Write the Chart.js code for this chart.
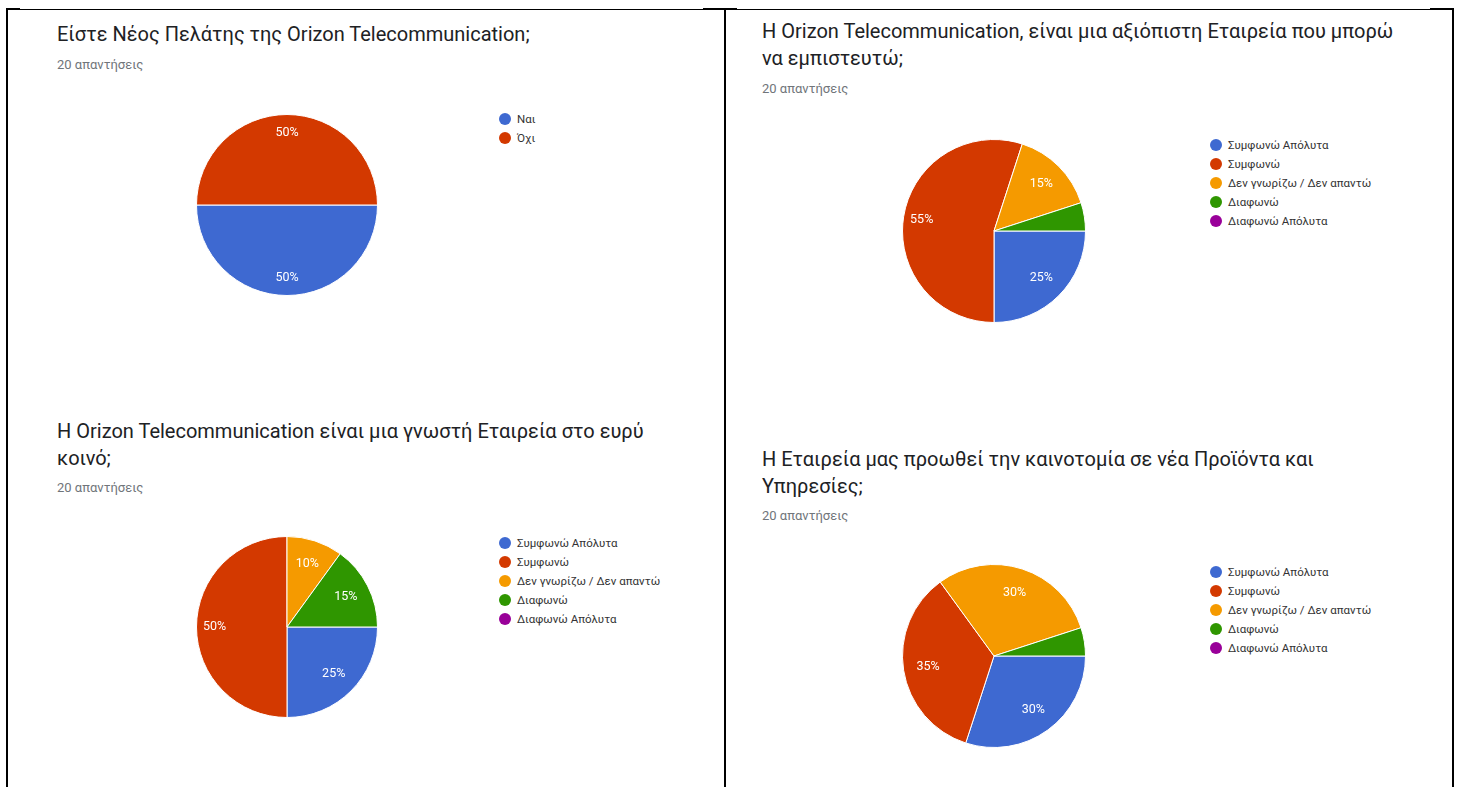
<!DOCTYPE html>
<html><head><meta charset="utf-8">
<script src="https://cdn.jsdelivr.net/npm/chart.js@4.4.1/dist/chart.umd.min.js"></script>
<style>
  html,body{margin:0;padding:0;background:#fff;}
  #root{position:relative;width:1461px;height:787px;overflow:hidden;font-family:Roboto,"Noto Sans",sans-serif;}
  .ln{position:absolute;background:#000;}
  .title{position:absolute;font-size:20px;line-height:27px;color:#202124;white-space:nowrap;}
  .sub{position:absolute;font-size:13px;line-height:16px;color:#70757a;white-space:nowrap;}
  .pie{position:absolute;}
  .legend{position:absolute;font-size:11.5px;color:#333;}
  .legend .row{position:relative;height:19px;line-height:19px;padding-left:12px;white-space:nowrap;}
  .legend .dot{position:absolute;left:-6px;top:3.5px;width:12px;height:12px;border-radius:50%;}
</style></head>
<body>
<div id="root">
  <div class="ln" style="left:6px;top:9px;width:1448px;height:1px;"></div>
  <div class="ln" style="left:6px;top:8px;width:14px;height:2px;"></div>
  <div class="ln" style="left:703px;top:8px;width:34px;height:2px;"></div>
  <div class="ln" style="left:1430px;top:8px;width:24px;height:2px;"></div>
  <div class="ln" style="left:6px;top:8px;width:2px;height:780px;"></div>
  <div class="ln" style="left:724px;top:8px;width:2px;height:780px;"></div>
  <div class="ln" style="left:1452px;top:8px;width:2px;height:780px;"></div>
</div>
<script>
// ---- data ----
const yesNoLabels = ["Ναι", "Όχι"];
const agreeLabels = ["Συμφωνώ Απόλυτα", "Συμφωνώ", "Δεν γνωρίζω / Δεν απαντώ", "Διαφωνώ", "Διαφωνώ Απόλυτα"];
const q1Values = [10, 10];
const q2Values = [5, 11, 3, 1, 0];
const q3Values = [5, 10, 2, 3, 0];
const q4Values = [6, 7, 6, 1, 0];
const q1Title = ["Είστε Νέος Πελάτης της Orizon Telecommunication;"];
const q2Title = ["H Orizon Telecommunication, είναι μια αξιόπιστη Εταιρεία που μπορώ", "να εμπιστευτώ;"];
const q3Title = ["H Orizon Telecommunication είναι μια γνωστή Εταιρεία στο ευρύ", "κοινό;"];
const q4Title = ["H Εταιρεία μας προωθεί την καινοτομία σε νέα Προϊόντα και", "Υπηρεσίες;"];
const responsesText = "20 απαντήσεις";
const palette = ["#3e69d1", "#d33900", "#f59a00", "#2f9600", "#990099"];

const root = document.getElementById('root');

const pctLabels = {
  id: 'pctLabels',
  afterDatasetsDraw(chart) {
    const ctx = chart.ctx;
    const meta = chart.getDatasetMeta(0);
    const data = chart.data.datasets[0].data;
    const total = data.reduce((a, b) => a + b, 0);
    ctx.save();
    ctx.fillStyle = '#fff';
    ctx.font = '12.5px Roboto, "Noto Sans", sans-serif';
    ctx.textAlign = 'center';
    ctx.textBaseline = 'middle';
    meta.data.forEach((arc, i) => {
      const frac = data[i] / total;
      if (frac < 0.08) return;
      const mid = (arc.startAngle + arc.endAngle) / 2;
      const r = arc.outerRadius * (frac >= 0.5 ? 0.8 : 0.73);
      ctx.fillText(Math.round(frac * 100) + '%', arc.x + Math.cos(mid) * r, arc.y + Math.sin(mid) * r);
    });
    ctx.restore();
  }
};

function addPanel(opts) {
  const t = document.createElement('div');
  t.className = 'title';
  t.style.left = opts.tx + 'px';
  t.style.top = opts.ty + 'px';
  t.innerHTML = opts.title.join('<br>');
  root.appendChild(t);
  const s = document.createElement('div');
  s.className = 'sub';
  s.style.left = opts.tx + 'px';
  s.style.top = opts.sy + 'px';
  s.textContent = responsesText;
  root.appendChild(s);

  const size = opts.r * 2 + 2;
  const c = document.createElement('canvas');
  c.className = 'pie';
  c.width = size; c.height = size;
  c.style.left = (opts.cx - size / 2) + 'px';
  c.style.top = (opts.cy - size / 2) + 'px';
  c.style.width = size + 'px'; c.style.height = size + 'px';
  root.appendChild(c);
  new Chart(c, {
    type: 'pie',
    data: {
      labels: opts.labels,
      datasets: [{ data: opts.values, backgroundColor: palette.slice(0, opts.labels.length), borderColor: '#fff', borderWidth: 1 }]
    },
    options: {
      responsive: false, animation: false, rotation: 90,
      layout: { padding: 0 },
      plugins: { legend: { display: false }, tooltip: { enabled: false } }
    },
    plugins: [pctLabels]
  });

  const lg = document.createElement('div');
  lg.className = 'legend';
  lg.style.left = opts.lx + 'px';
  lg.style.top = (opts.ly - 9.5) + 'px';
  opts.labels.forEach((lab, i) => {
    const row = document.createElement('div');
    row.className = 'row';
    const d = document.createElement('span');
    d.className = 'dot';
    d.style.background = palette[i];
    row.appendChild(d);
    row.appendChild(document.createTextNode(lab));
    lg.appendChild(row);
  });
  root.appendChild(lg);
}

addPanel({ title: q1Title, tx: 57, ty: 21, sy: 57, labels: yesNoLabels, values: q1Values, cx: 287, cy: 205, r: 90, lx: 505, ly: 119 });
addPanel({ title: q2Title, tx: 762, ty: 18, sy: 81, labels: agreeLabels, values: q2Values, cx: 994, cy: 231, r: 91, lx: 1216, ly: 145 });
addPanel({ title: q3Title, tx: 57, ty: 418, sy: 480, labels: agreeLabels, values: q3Values, cx: 287, cy: 627, r: 90, lx: 505, ly: 543 });
addPanel({ title: q4Title, tx: 762, ty: 446, sy: 508, labels: agreeLabels, values: q4Values, cx: 994, cy: 656, r: 91, lx: 1216, ly: 572 });
</script>
</body></html>
